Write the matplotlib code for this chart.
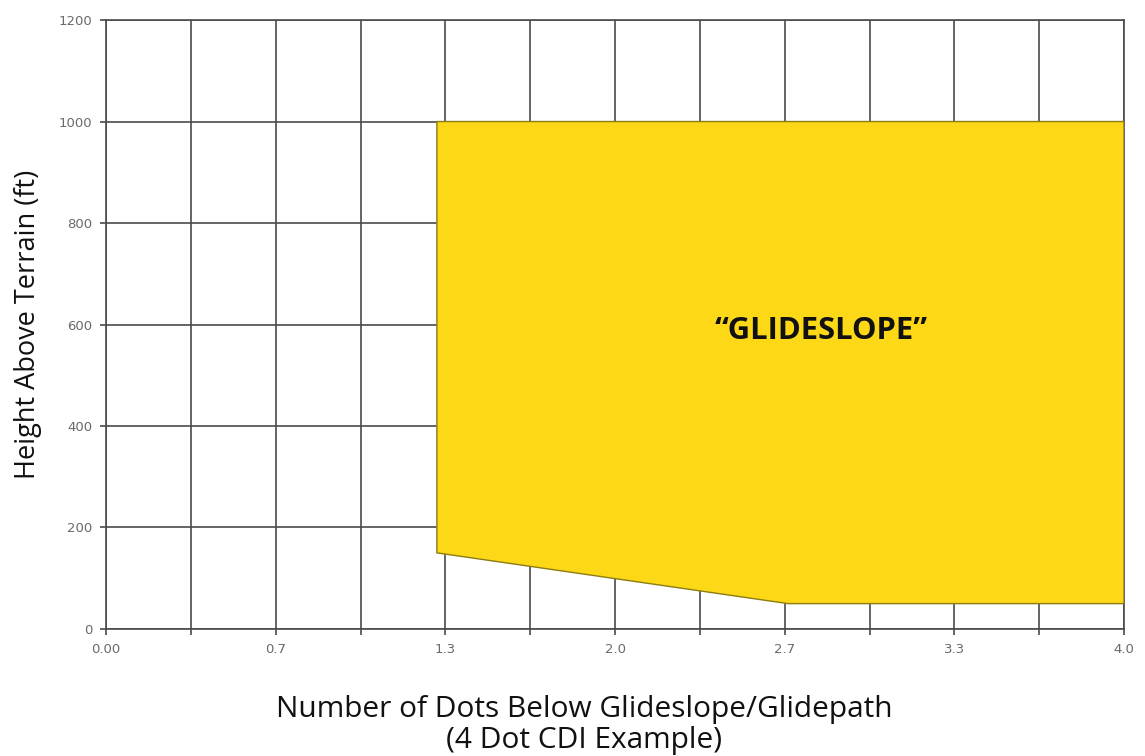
import matplotlib
matplotlib.use("Agg")
import matplotlib.pyplot as plt
import numpy as np

# Data
region_x = [1.3, 4.0, 4.0, 2.68, 1.3]
region_y = [1000, 1000, 50, 50, 150]
x_major_ticks = [0.0, 2/3, 4/3, 2.0, 8/3, 10/3, 4.0]
x_tick_labels = ["0.00", "0.7", "1.3", "2.0", "2.7", "3.3", "4.0"]
x_minor_ticks = [1/3, 1.0, 5/3, 7/3, 3.0, 11/3]
y_ticks = [0, 200, 400, 600, 800, 1000, 1200]
region_label = "\u201cGLIDESLOPE\u201d"

fig = plt.figure(figsize=(11.45, 7.56), dpi=100)
ax = fig.add_axes([0.0926, 0.168, 0.9817 - 0.0926, 0.9735 - 0.168])

grid_color = "#4a4a4a"
ax.set_xlim(0, 4.0)
ax.set_ylim(0, 1200)
ax.set_xticks(x_major_ticks)
ax.set_xticklabels(x_tick_labels)
ax.set_xticks(x_minor_ticks, minor=True)
ax.set_yticks(y_ticks)
ax.set_yticklabels([str(v) for v in y_ticks])
ax.grid(True, which="both", axis="x", color=grid_color, linewidth=1.2, zorder=0)
ax.grid(True, which="major", axis="y", color=grid_color, linewidth=1.2, zorder=0)
for s in ax.spines.values():
    s.set_color(grid_color)
    s.set_linewidth(1.2)
ax.tick_params(axis="both", which="both", color=grid_color, width=1.2, length=4,
               labelsize=9.5, labelcolor="#6a6a6a", pad=6)

ax.fill(region_x, region_y, facecolor="#FCD816", edgecolor="#8c7c12",
        linewidth=1.0, zorder=3)
ax.text(2.81, 588, region_label, ha="center", va="center", fontsize=22.3,
        fontweight="bold", family=["Open Sans", "DejaVu Sans"], color="#111111", zorder=4)

ax.set_ylabel("Height Above Terrain (ft)", fontsize=19.5, family=["Open Sans", "DejaVu Sans"],
              color="#111111", labelpad=12)
ax.set_xlabel("Number of Dots Below Glideslope/Glidepath\n(4 Dot CDI Example)",
              fontsize=21.5, family=["Open Sans", "DejaVu Sans"], color="#111111",
              linespacing=1.08)
ax.xaxis.set_label_coords(0.4695, -0.109)

fig.savefig("out.png", dpi=100)
